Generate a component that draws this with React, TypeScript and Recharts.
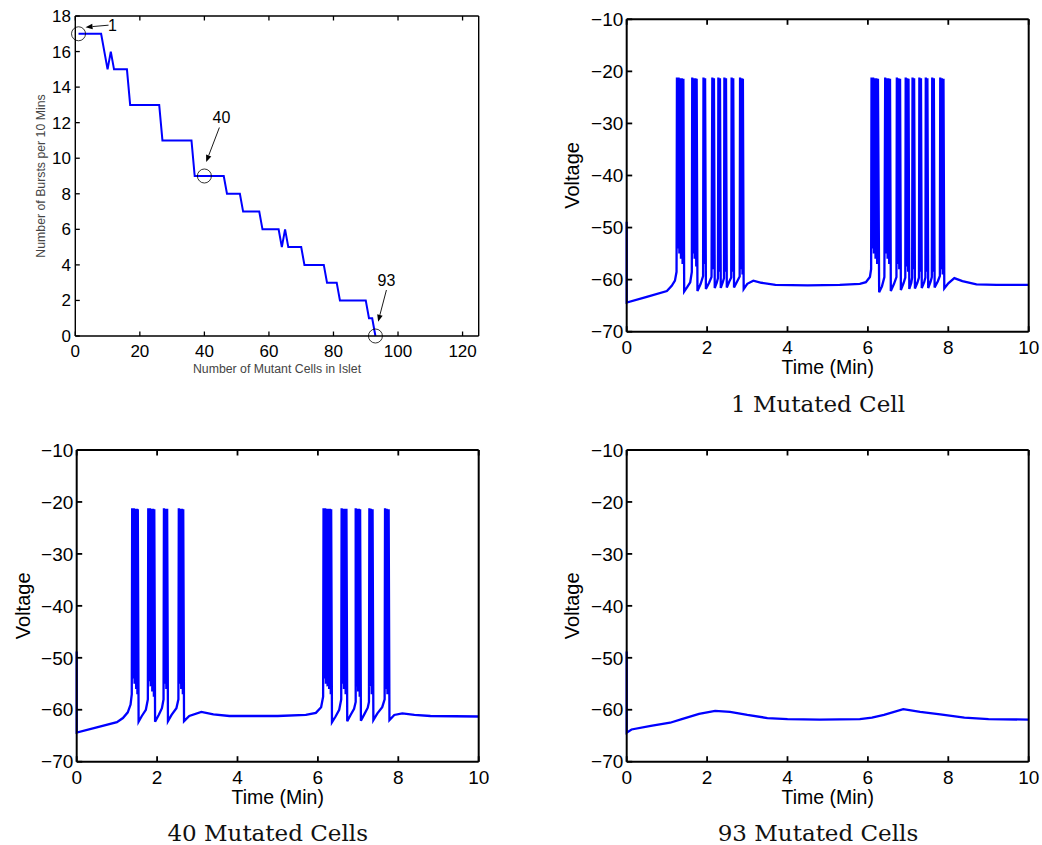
import React from 'react';
import { LineChart, Line, XAxis, YAxis, ReferenceDot } from 'recharts';

// ---------- Data ----------
const mutantCells = [1, 8, 10, 11, 12, 16, 17, 26, 27, 36, 37, 46, 47, 51, 52, 57, 58, 63, 64, 65, 66, 70, 71, 77, 78, 81, 82, 90, 91, 92, 93];
const burstsPer10Min = [17, 17, 15, 16, 15, 15, 13, 13, 11, 11, 9, 9, 8, 8, 7, 7, 6, 6, 5, 6, 5, 5, 4, 4, 3, 3, 2, 2, 1, 1, 0];
const cellTicks = [0, 20, 40, 60, 80, 100, 120];
const burstTicks = [0, 2, 4, 6, 8, 10, 12, 14, 16, 18];
const timeTicks = [0, 2, 4, 6, 8, 10];
const voltageTicks = [-70, -60, -50, -40, -30, -20, -10];

const annotatedCells = [1, 40, 93];
const annotatedBursts = [17, 9, 0];
const annotationLabels = ['1', '40', '93'];

const captions = ['1 Mutated Cell', '40 Mutated Cells', '93 Mutated Cells'];

// [time (min), voltage]
const trace1Cell: [number, number][] = [
  [0, -48.9], [0, -64.4], [0.5, -63.3], [1.0, -62.2], [1.12, -61.2], [1.2, -60.2], [1.24, -58.5],
  [1.25, -21.2], [1.27, -54], [1.29, -21.2], [1.31, -55], [1.33, -21.3], [1.35, -56], [1.37, -21.3], [1.39, -57], [1.41, -21.4], [1.43, -62.3],
  [1.5, -61.5], [1.58, -60.5], [1.62, -58.5],
  [1.63, -21.2], [1.65, -55], [1.67, -21.3], [1.69, -56], [1.71, -21.3], [1.73, -57.5], [1.74, -21.4], [1.76, -62.2],
  [1.84, -60.8], [1.9, -59.3],
  [1.91, -21.2], [1.93, -57], [1.95, -21.3], [1.97, -61.8],
  [2.05, -60.6], [2.11, -59.5],
  [2.13, -21.2], [2.15, -58], [2.17, -21.3], [2.19, -61.6],
  [2.24, -60.6], [2.27, -59.7],
  [2.28, -21.2], [2.3, -58.5], [2.32, -21.3], [2.34, -61.6],
  [2.39, -60.5], [2.42, -59.7],
  [2.43, -21.2], [2.45, -58.5], [2.47, -21.3], [2.49, -61.5],
  [2.55, -60.4], [2.6, -59.6],
  [2.61, -21.2], [2.63, -58.5], [2.65, -21.3], [2.67, -61.5],
  [2.75, -60.3], [2.81, -59.4],
  [2.82, -21.2], [2.84, -58], [2.86, -21.3], [2.88, -59], [2.89, -21.4], [2.91, -61.8],
  [3.0, -60.8], [3.15, -60.2], [3.35, -60.6], [3.7, -61.0], [4.5, -61.1], [5.3, -61.0], [5.8, -60.8], [5.95, -60.5], [6.05, -59.5], [6.08, -58],
  [6.09, -21.2], [6.11, -54], [6.13, -21.2], [6.15, -55], [6.17, -21.3], [6.19, -56], [6.21, -21.3], [6.23, -57], [6.25, -21.4], [6.28, -62.4],
  [6.35, -61.3], [6.41, -59.5],
  [6.43, -21.2], [6.45, -55], [6.47, -21.3], [6.49, -56], [6.51, -21.3], [6.53, -57], [6.55, -21.4], [6.57, -62.2],
  [6.65, -60.8], [6.71, -59.5],
  [6.72, -21.2], [6.74, -57], [6.76, -21.3], [6.78, -58], [6.8, -21.4], [6.82, -62],
  [6.89, -60.6], [6.93, -59.6],
  [6.94, -21.2], [6.96, -57.5], [6.98, -21.3], [7.0, -58.5], [7.01, -21.4], [7.03, -61.8],
  [7.08, -60.6], [7.1, -59.6],
  [7.11, -21.2], [7.13, -58], [7.15, -21.3], [7.17, -61.7],
  [7.23, -60.6], [7.27, -59.6],
  [7.28, -21.2], [7.3, -58.5], [7.32, -21.3], [7.34, -61.6],
  [7.4, -60.5], [7.43, -59.6],
  [7.44, -21.2], [7.46, -58.5], [7.48, -21.3], [7.5, -61.6],
  [7.56, -60.4], [7.59, -59.5],
  [7.6, -21.2], [7.62, -58.5], [7.64, -21.3], [7.66, -61.5],
  [7.74, -60.3], [7.79, -59.3],
  [7.8, -21.2], [7.82, -58], [7.84, -21.3], [7.86, -59], [7.88, -21.4], [7.9, -61.7],
  [8.0, -60.7], [8.15, -59.7], [8.35, -60.3], [8.7, -60.9], [9.2, -61.0], [10, -61.0],
];

const trace40Cells: [number, number][] = [
  [0, -48.8], [0, -64.4], [0.5, -63.4], [1.0, -62.4], [1.15, -61.6], [1.27, -60.5], [1.34, -59], [1.37, -57],
  [1.38, -21.2], [1.4, -54], [1.42, -21.2], [1.44, -55], [1.46, -21.3], [1.48, -56], [1.5, -21.3], [1.51, -57], [1.52, -21.4], [1.54, -62.3],
  [1.62, -61.2], [1.72, -60], [1.77, -58],
  [1.78, -21.2], [1.8, -54.5], [1.82, -21.2], [1.84, -55.5], [1.86, -21.3], [1.88, -56.5], [1.9, -21.3], [1.92, -57.5], [1.93, -21.4], [1.95, -62.3],
  [2.04, -61], [2.12, -59.7], [2.16, -58],
  [2.17, -21.2], [2.19, -55], [2.21, -21.3], [2.23, -56], [2.25, -21.3], [2.27, -62.2],
  [2.36, -61], [2.48, -59.7], [2.53, -58],
  [2.54, -21.2], [2.56, -55], [2.58, -21.3], [2.6, -56], [2.62, -21.3], [2.64, -57], [2.65, -21.4], [2.67, -62.2],
  [2.8, -61.2], [3.1, -60.4], [3.4, -60.9], [3.8, -61.2], [5.0, -61.2], [5.7, -61.0], [5.95, -60.6], [6.08, -59.5], [6.13, -57.5],
  [6.14, -21.2], [6.16, -54], [6.18, -21.2], [6.2, -55], [6.22, -21.3], [6.24, -55.5], [6.26, -21.3], [6.28, -56], [6.3, -21.3], [6.32, -57], [6.33, -21.4], [6.35, -62.4],
  [6.44, -61.3], [6.53, -60], [6.58, -58],
  [6.59, -21.2], [6.61, -55], [6.63, -21.3], [6.65, -56], [6.67, -21.3], [6.69, -57], [6.71, -21.3], [6.73, -62.2],
  [6.82, -60.9], [6.9, -59.8], [6.94, -58.5],
  [6.94, -21.2], [6.96, -55.5], [6.98, -21.3], [7.0, -56.5], [7.02, -21.3], [7.04, -57.5], [7.05, -21.4], [7.07, -62.1],
  [7.16, -60.8], [7.24, -59.6], [7.27, -58.5],
  [7.28, -21.2], [7.3, -55.5], [7.32, -21.3], [7.34, -57], [7.36, -21.4], [7.38, -62],
  [7.48, -60.7], [7.6, -59.5], [7.66, -58],
  [7.67, -21.2], [7.69, -56], [7.71, -21.3], [7.73, -57], [7.76, -21.4], [7.78, -62],
  [7.9, -61], [8.1, -60.7], [8.4, -61], [8.8, -61.2], [10, -61.3],
];

const trace93Cells: [number, number][] = [
  [0, -48.8], [0, -64.4], [0.12, -63.8], [0.6, -63.1], [1.08, -62.5], [1.37, -61.8], [1.8, -60.8], [2.2, -60.2], [2.57, -60.4],
  [3.0, -61.0], [3.5, -61.6], [4.0, -61.8], [4.8, -61.9], [5.8, -61.8], [6.1, -61.5], [6.4, -61.0], [6.88, -59.9],
  [7.3, -60.4], [7.8, -60.9], [8.4, -61.5], [9.0, -61.8], [10, -61.9],
];

// ---------- Styling ----------
const FONT = '"Liberation Sans", Arial, Helvetica, sans-serif';
const SERIF = '"DejaVu Serif", "Liberation Serif", serif';
const BLUE = '#0000ff';
const fmtMinus = (v: number) => (v < 0 ? '\u2212' + Math.abs(v) : String(v));
const blankFmt = () => '';
const blankTick = { fill: 'none', fontSize: 1 };

// pixel offsets of annotation text and arrows relative to the circled point
const annotationLayout = [
  { tx: 34, ty: -2.6, ax1: 30, ay1: -8.6, ax2: 7, ay2: -6.6 },
  { tx: 17, ty: -53, ax1: 15, ay1: -48.5, ax2: 1.8, ay2: -14 },
  { tx: 11, ty: -50.3, ax1: 11, ay1: -46, ax2: 2.7, ay2: -14.3 },
];

function AnnotationShape(props: any) {
  const { cx, cy, idx } = props;
  const L = annotationLayout[idx];
  const x1 = cx + L.ax1, y1 = cy + L.ay1, x2 = cx + L.ax2, y2 = cy + L.ay2;
  const dx = x2 - x1, dy = y2 - y1;
  const len = Math.sqrt(dx * dx + dy * dy);
  const ux = dx / len, uy = dy / len;
  const hl = 7, hw = 2.8;
  const bx = x2 - ux * hl, by = y2 - uy * hl;
  const pts = `${x2},${y2} ${bx - uy * hw},${by + ux * hw} ${bx + uy * hw},${by - ux * hw}`;
  return (
    <g>
      <circle cx={cx} cy={cy} r={7} fill="none" stroke="#000" strokeWidth={0.8} />
      <line x1={x1} y1={y1} x2={bx} y2={by} stroke="#000" strokeWidth={0.9} />
      <polygon points={pts} fill="#000" />
      <text x={cx + L.tx} y={cy + L.ty} textAnchor="middle" fontFamily={FONT} fontSize={16} fill="#000">
        {annotationLabels[idx]}
      </text>
    </g>
  );
}

function BurstPanel() {
  const data = mutantCells.map((n, i) => ({ n, b: burstsPer10Min[i] }));
  const axisLine = { stroke: '#000', strokeWidth: 1.4 };
  const tickLine = { stroke: '#000', strokeWidth: 1.3 };
  return (
    <div style={{ position: 'absolute', left: 0, top: 0 }}>
      <LineChart width={500} height={390} data={data} margin={{ top: 15, right: 20.3, bottom: 14, left: 0 }}>
        <XAxis xAxisId="b" dataKey="n" type="number" domain={[0, 125]} ticks={cellTicks} interval={0}
          height={40} tickSize={-4.5} tickMargin={13.5} axisLine={axisLine} tickLine={tickLine}
          tick={{ fill: '#000', fontSize: 17, fontFamily: FONT }}
          label={{ value: 'Number of Mutant Cells in Islet', position: 'insideBottom', offset: 3.3, fill: '#444', fontSize: 12.3, fontFamily: FONT }} />
        <XAxis xAxisId="t" orientation="top" dataKey="n" type="number" domain={[0, 125]} ticks={cellTicks} interval={0}
          height={1} tickSize={-4.5} tick={blankTick} tickFormatter={blankFmt} axisLine={axisLine} tickLine={tickLine} />
        <YAxis yAxisId="l" type="number" domain={[0, 18]} ticks={burstTicks} interval={0}
          width={75.3} tickSize={-4.5} tickMargin={8.8} axisLine={axisLine} tickLine={tickLine}
          tick={{ fill: '#000', fontSize: 17, fontFamily: FONT }}
          label={{ value: 'Number of Bursts per 10 Mins', angle: -90, position: 'insideLeft', offset: 40.5, fill: '#444', fontSize: 12.3, fontFamily: FONT, style: { textAnchor: 'middle' } }} />
        <YAxis yAxisId="r" orientation="right" type="number" domain={[0, 18]} ticks={burstTicks} interval={0}
          width={1} tickSize={-4.5} tick={blankTick} tickFormatter={blankFmt} axisLine={axisLine} tickLine={tickLine} />
        <Line xAxisId="b" yAxisId="l" type="linear" dataKey="b" stroke={BLUE} strokeWidth={2} dot={false} isAnimationActive={false} />
        {annotatedCells.map((c, i) => (
          <ReferenceDot key={i} xAxisId="b" yAxisId="l" x={c} y={annotatedBursts[i]} r={7}
            shape={(p: any) => <AnnotationShape {...p} idx={i} />} />
        ))}
      </LineChart>
    </div>
  );
}

function VoltagePanel({ trace, left, top, width, height, plotTop, yAxisWidth, yLabelX }: { trace: [number, number][]; left: number; top: number; width: number; height: number; plotTop: number; yAxisWidth: number; yLabelX: number }) {
  const data = trace.map(([t, v]) => ({ t, v }));
  const axisLine = { stroke: '#000', strokeWidth: 2 };
  const tickLine = { stroke: '#000', strokeWidth: 1.8 };
  const plotBottom = 331.7;
  const plotRight = yAxisWidth + 402;
  return (
    <div style={{ position: 'absolute', left, top }}>
      <LineChart width={width} height={height} data={data}
        margin={{ top: plotTop - 1, right: width - plotRight - 1, bottom: height - plotBottom - 50, left: 0 }}>
        <XAxis xAxisId="b" dataKey="t" type="number" domain={[0, 10]} ticks={timeTicks} interval={0}
          height={50} tickSize={-5.5} tickMargin={14.5} axisLine={axisLine} tickLine={tickLine}
          tick={{ fill: '#000', fontSize: 19, fontFamily: FONT }}
          label={{ value: 'Time (Min)', position: 'insideBottom', offset: 7.5, fill: '#000', fontSize: 19.5, fontFamily: FONT }} />
        <XAxis xAxisId="t" orientation="top" dataKey="t" type="number" domain={[0, 10]} ticks={timeTicks} interval={0}
          height={1} tickSize={-5.5} tick={blankTick} tickFormatter={blankFmt} axisLine={axisLine} tickLine={tickLine} />
        <YAxis yAxisId="l" type="number" domain={[-70, -10]} ticks={voltageTicks} interval={0}
          width={yAxisWidth} tickSize={-5.5} tickMargin={8.9} axisLine={axisLine} tickLine={tickLine} tickFormatter={fmtMinus}
          tick={{ fill: '#000', fontSize: 19, fontFamily: FONT }}
          label={{ value: 'Voltage', angle: -90, position: 'insideLeft', offset: yLabelX, fill: '#000', fontSize: 20, fontFamily: FONT, style: { textAnchor: 'middle' } }} />
        <YAxis yAxisId="r" orientation="right" type="number" domain={[-70, -10]} ticks={voltageTicks} interval={0}
          width={1} tickSize={-5.5} tick={blankTick} tickFormatter={blankFmt} axisLine={axisLine} tickLine={tickLine} />
        <Line xAxisId="b" yAxisId="l" type="linear" dataKey="v" stroke={BLUE} strokeWidth={2.3} dot={false} isAnimationActive={false} />
      </LineChart>
    </div>
  );
}

export default function App() {
  return (
    <div style={{ position: 'absolute', left: 0, top: 0, width: 1042, height: 845, background: '#fff', overflow: 'hidden' }}>
      <BurstPanel />
      <VoltagePanel trace={trace1Cell} left={540} top={0} width={502} height={420} plotTop={19.3} yAxisWidth={86.7} yLabelX={31.7} />
      <VoltagePanel trace={trace40Cells} left={0} top={430} width={500} height={415} plotTop={20} yAxisWidth={76.7} yLabelX={22.5} />
      <VoltagePanel trace={trace93Cells} left={540} top={430} width={502} height={415} plotTop={20} yAxisWidth={86.7} yLabelX={31.7} />
      <svg width={1042} height={845} style={{ position: 'absolute', left: 0, top: 0, pointerEvents: 'none' }}>
        <text x={818} y={411.7} textAnchor="middle" fontFamily={SERIF} fontSize={23} fill="#111">{captions[0]}</text>
        <text x={267.7} y={840.7} textAnchor="middle" fontFamily={SERIF} fontSize={23} fill="#111">{captions[1]}</text>
        <text x={818} y={840.7} textAnchor="middle" fontFamily={SERIF} fontSize={23} fill="#111">{captions[2]}</text>
      </svg>
    </div>
  );
}
